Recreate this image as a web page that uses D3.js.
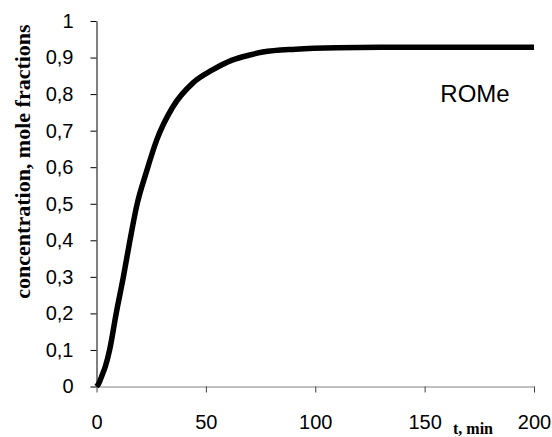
<!DOCTYPE html>
<html>
<head>
<meta charset="utf-8">
<script src="https://cdn.jsdelivr.net/npm/d3@7"></script>
<style>
  html, body { margin: 0; padding: 0; background: #fff; }
  svg { display: block; }
</style>
</head>
<body>
<div id="chart"></div>
<script>
// ROMe concentration vs time
const timeMin = [0, 1, 2.5, 4, 6, 9, 12.3, 15.3, 18.6, 22.6, 27.5, 35, 44, 53, 62, 70, 76, 91, 110, 130, 150, 175, 200]
const romeConc = [0, 0.008, 0.03, 0.054, 0.1, 0.2, 0.3, 0.4, 0.5, 0.583, 0.674, 0.766, 0.83, 0.866, 0.893, 0.907, 0.915, 0.923, 0.927, 0.928, 0.928, 0.928, 0.928]

const xTicks = [0, 50, 100, 150, 200]
const yTicks = [0, 0.1, 0.2, 0.3, 0.4, 0.5, 0.6, 0.7, 0.8, 0.9, 1]
const yTickLabels = ["0", "0,1", "0,2", "0,3", "0,4", "0,5", "0,6", "0,7", "0,8", "0,9", "1"]

const width = 552
const height = 437

const svg = d3.select("#chart")
  .append("svg")
  .attr("width", width)
  .attr("height", height)

const x = d3.scaleLinear().domain([0, 200]).range([96.5, 534])
const y = d3.scaleLinear().domain([0, 1]).range([386.5, 21])

// x axis (grey line, dark ticks)
const xAxis = svg.append("g")
  .attr("transform", `translate(0,${y(0)})`)
  .call(d3.axisBottom(x)
    .tickValues(xTicks)
    .tickSize(6)
    .tickSizeOuter(0)
    .tickPadding(22)
    .tickFormat(d3.format("d")))

xAxis.select(".domain").attr("stroke", "#808080")
xAxis.selectAll(".tick line").attr("stroke", "#404040")
xAxis.selectAll(".tick text")
  .attr("font-family", "Liberation Sans, Arial, sans-serif")
  .attr("font-size", 20)
  .attr("fill", "#000")

// y axis
const yAxis = svg.append("g")
  .attr("transform", `translate(${x(0)},0)`)
  .call(d3.axisLeft(y)
    .tickValues(yTicks)
    .tickSize(6)
    .tickSizeOuter(0)
    .tickPadding(17)
    .tickFormat((d, i) => yTickLabels[i]))

yAxis.select(".domain").attr("stroke", "#000")
yAxis.selectAll(".tick line").attr("stroke", "#000")
yAxis.selectAll(".tick text")
  .attr("font-family", "Liberation Sans, Arial, sans-serif")
  .attr("font-size", 20)
  .attr("fill", "#000")

// curve
const line = d3.line()
  .x((d, i) => x(timeMin[i]))
  .y(d => y(d))
  .curve(d3.curveMonotoneX)

svg.append("path")
  .datum(romeConc)
  .attr("fill", "none")
  .attr("stroke", "#000")
  .attr("stroke-width", 5.5)
  .attr("stroke-linejoin", "round")
  .attr("d", line)

// series label
svg.append("text")
  .attr("x", 475)
  .attr("y", 101.5)
  .attr("text-anchor", "middle")
  .attr("font-family", "Liberation Sans, Arial, sans-serif")
  .attr("font-size", 24)
  .attr("fill", "#000")
  .text("ROMe")

// axis titles
svg.append("text")
  .attr("x", 473)
  .attr("y", 434)
  .attr("text-anchor", "middle")
  .attr("font-family", "Liberation Serif, Times New Roman, serif")
  .attr("font-weight", "bold")
  .attr("font-size", 16)
  .attr("fill", "#000")
  .text("t, min")

svg.append("text")
  .attr("transform", "translate(30,161.5) rotate(-90)")
  .attr("text-anchor", "middle")
  .attr("font-family", "Liberation Serif, Times New Roman, serif")
  .attr("font-weight", "bold")
  .attr("font-size", 22)
  .attr("fill", "#000")
  .text("concentration, mole fractions")
</script>
</body>
</html>
